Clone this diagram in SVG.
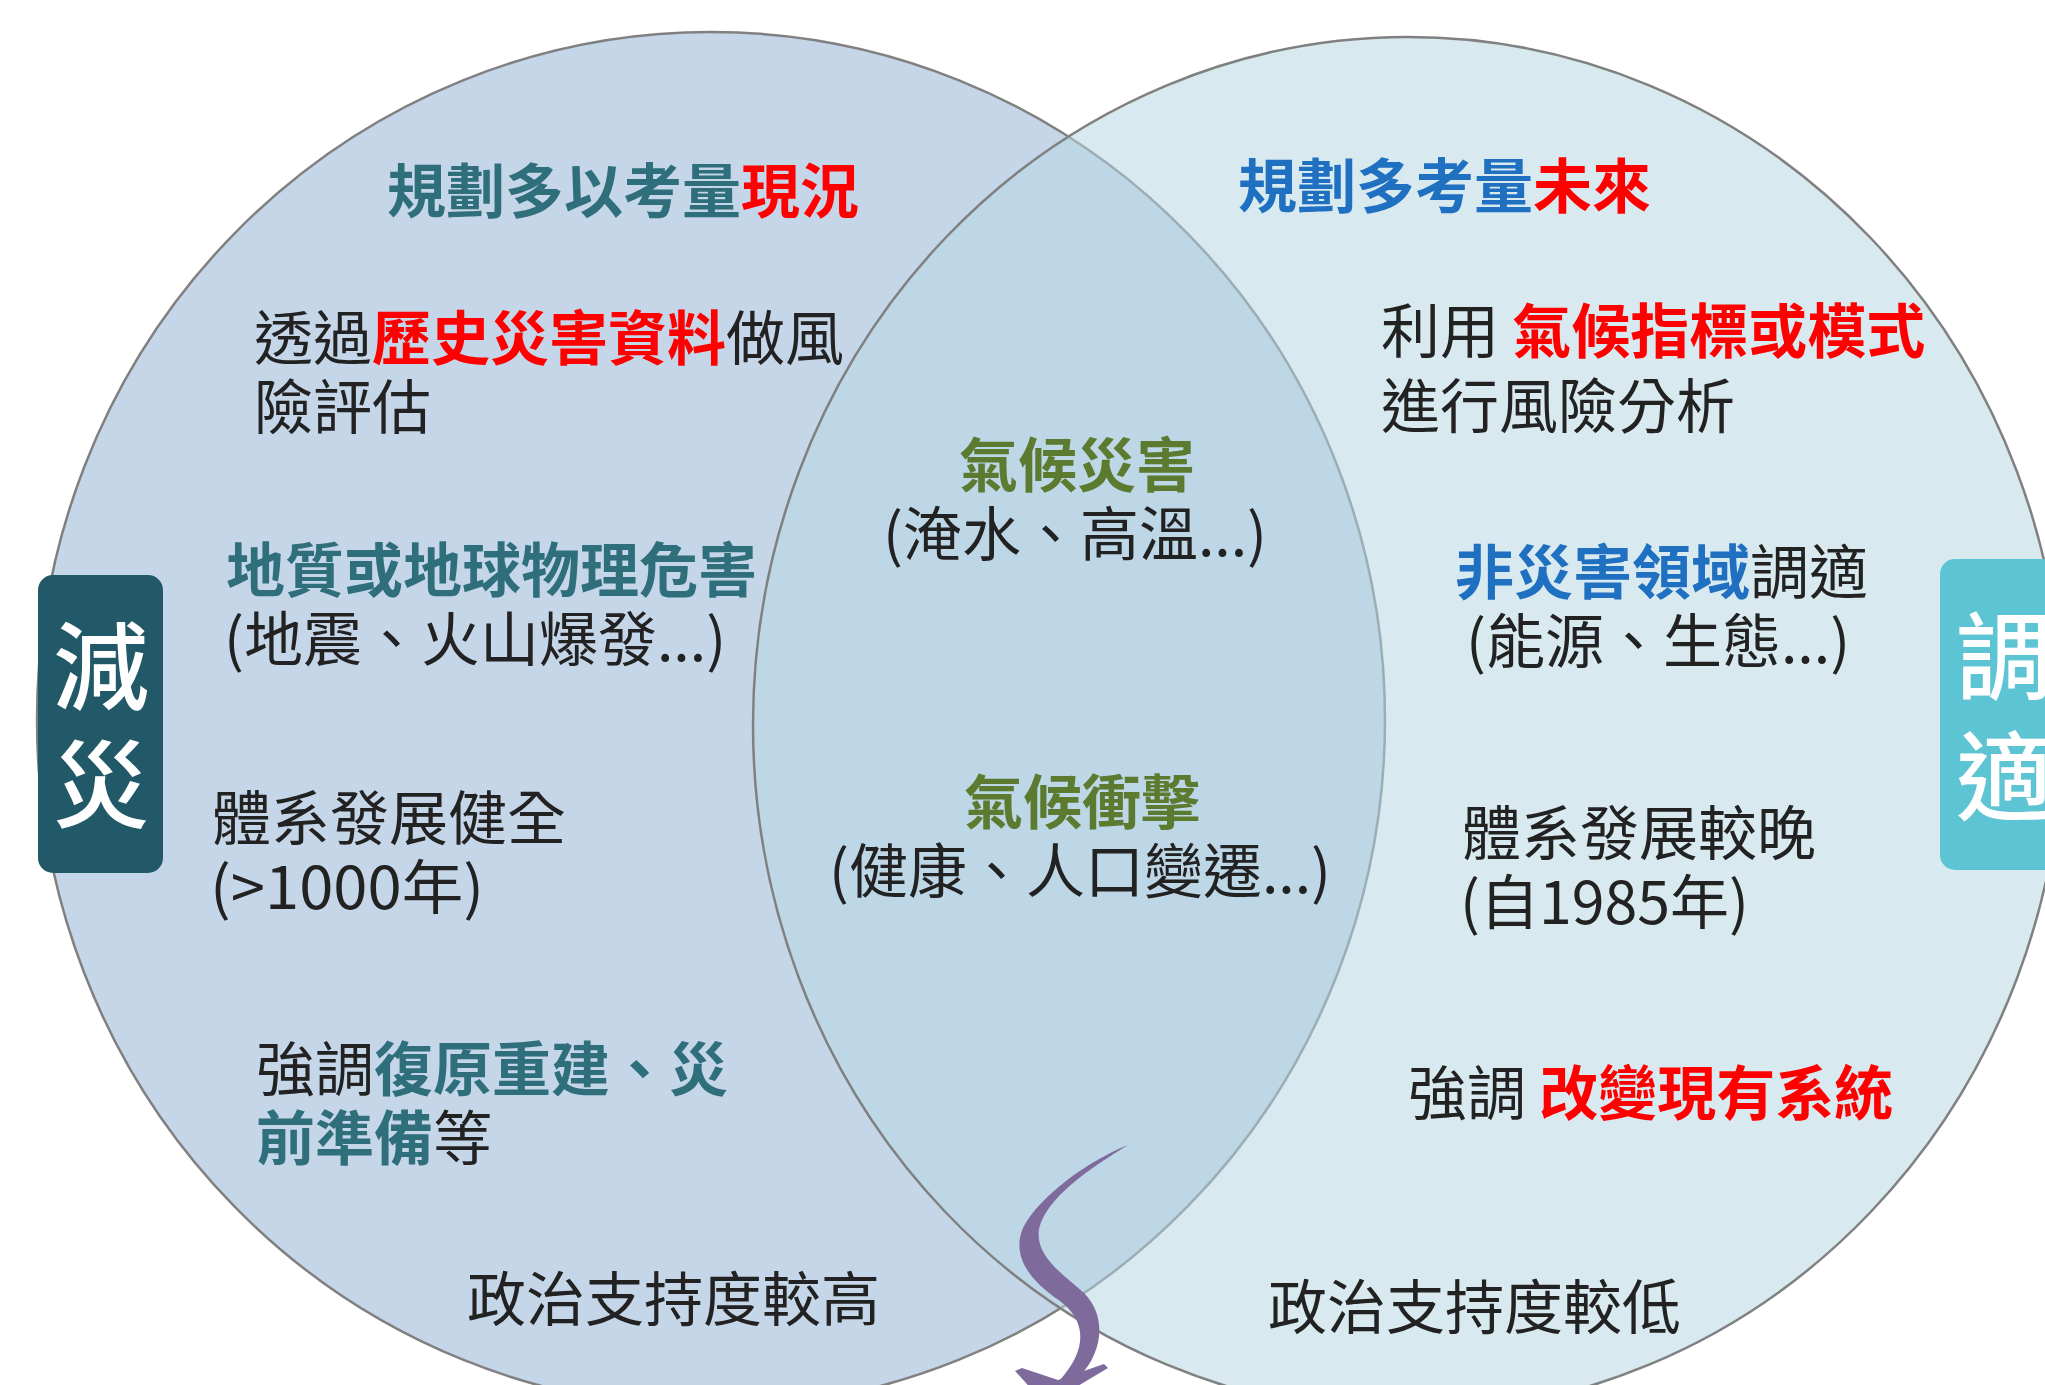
<svg xmlns="http://www.w3.org/2000/svg" width="2045" height="1385" viewBox="0 0 2045 1385">
<style>
.t{font-family:"Noto Sans CJK TC","Noto Sans CJK SC",sans-serif;font-size:59px;fill:#222}
.b{font-weight:700}
.teal{fill:#2f6f7c}
.red{fill:#ff0000}
.blue{fill:#1f70c0}
.green{fill:#5c7b30}
.box{font-family:"Noto Sans CJK TC","Noto Sans CJK SC",sans-serif;font-size:96px;fill:#ffffff;font-weight:500}
.ring{stroke:#808080;stroke-width:2.5}
</style>
<rect width="2045" height="1385" fill="#ffffff"/>
<g id="mitigation-circle">
<ellipse class="ring" cx="711" cy="720" rx="674" ry="688" fill="#c6d6e9"/>
</g>
<g id="adaptation-circle">
<ellipse class="ring" cx="1408" cy="725" rx="655" ry="688" fill="#b5d7e3" fill-opacity="0.53"/>
</g>
<g id="label-mitigation">
<rect x="38" y="575" width="125" height="298" rx="15" fill="#215968"/>
<text class="box" x="101" y="702" text-anchor="middle">減</text>
<text class="box" x="101" y="820" text-anchor="middle">災</text>
</g>
<g id="label-adaptation">
<rect x="1940" y="559" width="140" height="311" rx="15" fill="#5cc4d2"/>
<text class="box" x="1956" y="692">調</text>
<text class="box" x="1956" y="812">適</text>
</g>
<g id="mitigation-texts">
<text class="t" x="387" y="213"><tspan class="b teal">規劃多以考量</tspan><tspan class="b red">現況</tspan></text>
<text class="t" x="254" y="360">透過<tspan class="b red">歷史災害資料</tspan>做風</text>
<text class="t" x="254" y="429">險評估</text>
<text class="t b teal" x="226" y="592">地質或地球物理危害</text>
<text class="t" x="224" y="661">(地震、火山爆發...)</text>
<text class="t" x="212" y="840">體系發展健全</text>
<text class="t" x="210" y="909" textLength="274" lengthAdjust="spacingAndGlyphs">(&gt;1000年)</text>
<text class="t" x="256" y="1091">強調<tspan class="b teal">復原重建、災</tspan></text>
<text class="t" x="256" y="1160"><tspan class="b teal">前準備</tspan>等</text>
<text class="t" x="467" y="1321">政治支持度較高</text>
</g>
<g id="adaptation-texts">
<text class="t" x="1238" y="208"><tspan class="b blue">規劃多考量</tspan><tspan class="b red">未來</tspan></text>
<text class="t" x="1381" y="353">利用 <tspan class="b red">氣候指標或模式</tspan></text>
<text class="t" x="1381" y="428">進行風險分析</text>
<text class="t" x="1455" y="594"><tspan class="b blue">非災害領域</tspan>調適</text>
<text class="t" x="1466" y="663">(能源、生態...)</text>
<text class="t" x="1462" y="855">體系發展較晚</text>
<text class="t" x="1460" y="924">(自1985年)</text>
<text class="t" x="1408" y="1115">強調 <tspan class="b red">改變現有系統</tspan></text>
<text class="t" x="1268" y="1329">政治支持度較低</text>
</g>
<g id="overlap-texts">
<text class="t b green" x="1077" y="487" text-anchor="middle">氣候災害</text>
<text class="t" x="1075" y="556" text-anchor="middle">(淹水、高溫...)</text>
<text class="t b green" x="1082" y="824" text-anchor="middle">氣候衝擊</text>
<text class="t" x="1080" y="893" text-anchor="middle">(健康、人口變遷...)</text>
</g>
<g id="connectors">
<path fill="#7f6a9c" d="M1128 1145 C1090 1160 1040 1195 1023 1228 C1011 1256 1030 1281 1060 1301 C1084 1319 1090 1346 1060 1380 L1080 1376 C1104 1350 1106 1315 1084 1293 C1060 1272 1035 1255 1039 1229 C1046 1198 1090 1168 1128 1145 Z"/>
<path fill="#7f6a9c" d="M1015 1371 L1022 1368 L1058 1380 L1104 1364 L1108 1368 L1046 1405 Z"/>
</g>
</svg>
